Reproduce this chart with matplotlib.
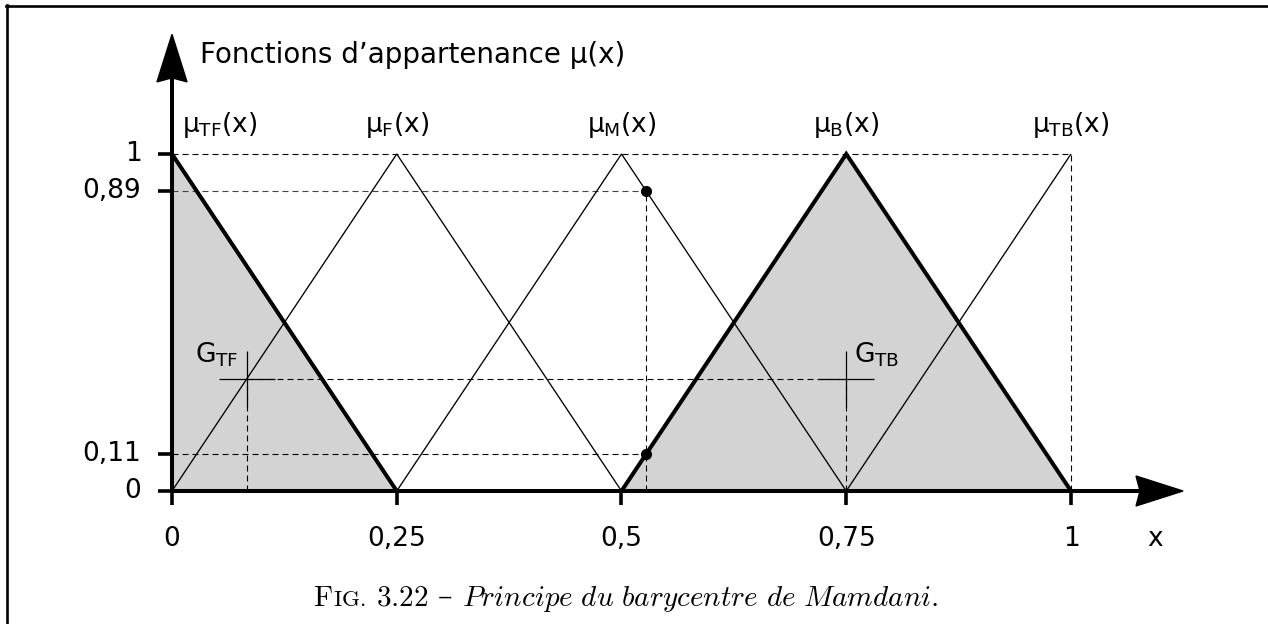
import matplotlib
matplotlib.use('Agg')
import matplotlib.pyplot as plt
from matplotlib.patches import Polygon
from matplotlib.lines import Line2D

# membership functions (triangles of half width 0.25)
set_names = ['TF', 'F', 'M', 'B', 'TB']
centers = [0.0, 0.25, 0.5, 0.75, 1.0]
half_width = 0.25
thick_sets = ['TF', 'B']

x_ticks = [0, 0.25, 0.5, 0.75, 1]
x_ticklabels = ['0', '0,25', '0,5', '0,75', '1']
y_ticks = [0, 0.11, 0.89, 1]
y_ticklabels = ['0', '0,11', '0,89', '1']

# input value and activation levels
x_input = 0.5275
mu_M = 0.89
mu_B = 0.11

# centres of gravity of the two shaded areas
g_names = ['TF', 'TB']
g_x = [1 / 12, 0.75]
g_y = [1 / 3, 1 / 3]

plt.rcParams['font.family'] = 'DejaVu Sans'
plt.rcParams['mathtext.fontset'] = 'custom'
plt.rcParams['mathtext.rm'] = 'DejaVu Sans'
plt.rcParams['mathtext.it'] = 'DejaVu Sans'
plt.rcParams['mathtext.bf'] = 'DejaVu Sans:bold'

W, H = 1268, 624
fig = plt.figure(figsize=(W / 100, H / 100), dpi=100)
ax = fig.add_axes([0, 0, 1, 1])
ax.set_xlim(-0.19132, 1.21913)
ax.set_ylim(-0.39466, 1.45697)
ax.axis('off')

gray = '#d3d3d3'
thick = 2.9
thin = 0.95
dash = dict(color='k', lw=0.8, ls=(0, (5.4, 3.6)), zorder=2)
fs = 19


def tri(c):
    xs = [max(c - half_width, 0), c, min(c + half_width, 1)]
    ys = [1 - abs(x - c) / half_width for x in xs]
    return xs, ys


# shaded areas
for name, c in zip(set_names, centers):
    if name in thick_sets:
        xs, ys = tri(c)
        ax.fill(xs + [xs[0]], ys + [0], color=gray, lw=0, zorder=1)

# dashed guides
ax.plot([0, 1], [1, 1], **dash)
ax.plot([1, 1], [0, 1], **dash)
ax.plot([0, x_input], [mu_M, mu_M], **{**dash, 'color': '#444444'})
ax.plot([0, x_input], [mu_B, mu_B], **dash)
ax.plot([x_input, x_input], [0, mu_M], **dash)
ax.plot([g_x[0], g_x[1]], [g_y[0], g_y[1]], **dash)
for gx, gy in zip(g_x, g_y):
    ax.plot([gx, gx], [0, gy], **dash)

# membership triangles
for name, c in zip(set_names, centers):
    xs, ys = tri(c)
    lw = thick if name in thick_sets else thin
    ax.plot(xs, ys, color='k', lw=lw, zorder=4 if lw == thick else 3,
            solid_joinstyle='miter', solid_capstyle='butt')

# activation points
ax.plot([x_input, x_input], [mu_M, mu_B], 'o', color='k', ms=7, zorder=6)

# centres of gravity
for name, gx, gy in zip(g_names, g_x, g_y):
    ax.plot(gx, gy, marker='+', color='k', ms=40, mew=0.9, zorder=5)
for name, gx, tx in zip(g_names, g_x, [0.0256, 0.7586]):
    ax.text(tx, 0.38, r'$G_{\mathrm{%s}}$' % name, fontsize=fs,
            ha='left', va='baseline', zorder=7)

# axes with arrowheads
ax.plot([0, 0], [0, 1.225], color='k', lw=thick, zorder=5,
        solid_capstyle='butt')
ax.plot([0, 1.08], [0, 0], color='k', lw=thick, zorder=5,
        solid_capstyle='butt')
ax.add_patch(Polygon([(0, 1.355), (0.0167, 1.214), (0, 1.226),
                      (-0.0167, 1.214)], closed=True, color='k', zorder=6))
ax.add_patch(Polygon([(1.1246, 0), (1.0723, 0.0445), (1.0768, 0),
                      (1.0723, -0.0445)], closed=True, color='k', zorder=6))

# ticks
for yt in y_ticks:
    ax.plot([-0.0156, 0], [yt, yt], color='k', lw=2.6, zorder=5,
            solid_capstyle='butt')
for xt in x_ticks:
    ax.plot([xt, xt], [-0.042, 0], color='k', lw=2.6, zorder=5,
            solid_capstyle='butt')

for yt, lab in zip(y_ticks, y_ticklabels):
    ax.text(-0.034, yt, lab, fontsize=fs, ha='right', va='center')
for xt, lab in zip(x_ticks, x_ticklabels):
    ax.text(xt, -0.143, lab, fontsize=fs, ha='center', va='center')
ax.text(1.0935, -0.143, 'x', fontsize=fs, ha='center', va='center')

ax.text(0.0311, 1.270, 'Fonctions d\u2019appartenance \u03bc(x)',
        fontsize=20, ha='left', va='baseline')

# labels of the membership functions
for name, c in zip(set_names, centers):
    lab = r'$\mu_{\mathrm{%s}}\mathrm{(x)}$' % name
    if c == 0:
        ax.text(0.011, 1.065, lab, fontsize=fs, ha='left', va='baseline')
    else:
        ax.text(c, 1.065, lab, fontsize=fs, ha='center', va='baseline')

# frame
fig.add_artist(Line2D([7 / W, 7 / W], [0, 1 - 5 / H], color='k', lw=1.9))
fig.add_artist(Line2D([6 / W, 1], [1 - 6 / H, 1 - 6 / H], color='k', lw=1.9))

# caption, built piece by piece on a common baseline
pieces = [
    (r'$\mathrm{F}$', 21, 'cm', 0),
    (r'$\mathrm{IG.}$', 16.5, 'cm', 0),
    (r'$\mathrm{3.22}$', 21, 'cm', 10),
    ('\u2013', 21, None, 10),
    (r'$\mathit{Principe\ du\ barycentre\ de\ Mamdani}\mathrm{.}$', 21, 'cm', 10),
]
renderer = fig.canvas.get_renderer()
base_y = (H - 606) / H
texts = []
for s, size, mf, gap in pieces:
    kw = dict(fontsize=size, ha='left', va='baseline')
    if mf:
        kw['math_fontfamily'] = mf
    else:
        kw['family'] = 'DejaVu Serif'
    texts.append(fig.text(0, base_y, s, **kw))
widths = [t.get_window_extent(renderer).width for t in texts]
total = sum(widths) + sum(p[3] for p in pieces)
x = 626 - total / 2
for t, w, p in zip(texts, widths, pieces):
    x += p[3]
    t.set_x(x / W)
    x += w

fig.savefig('out.png', dpi=100)
